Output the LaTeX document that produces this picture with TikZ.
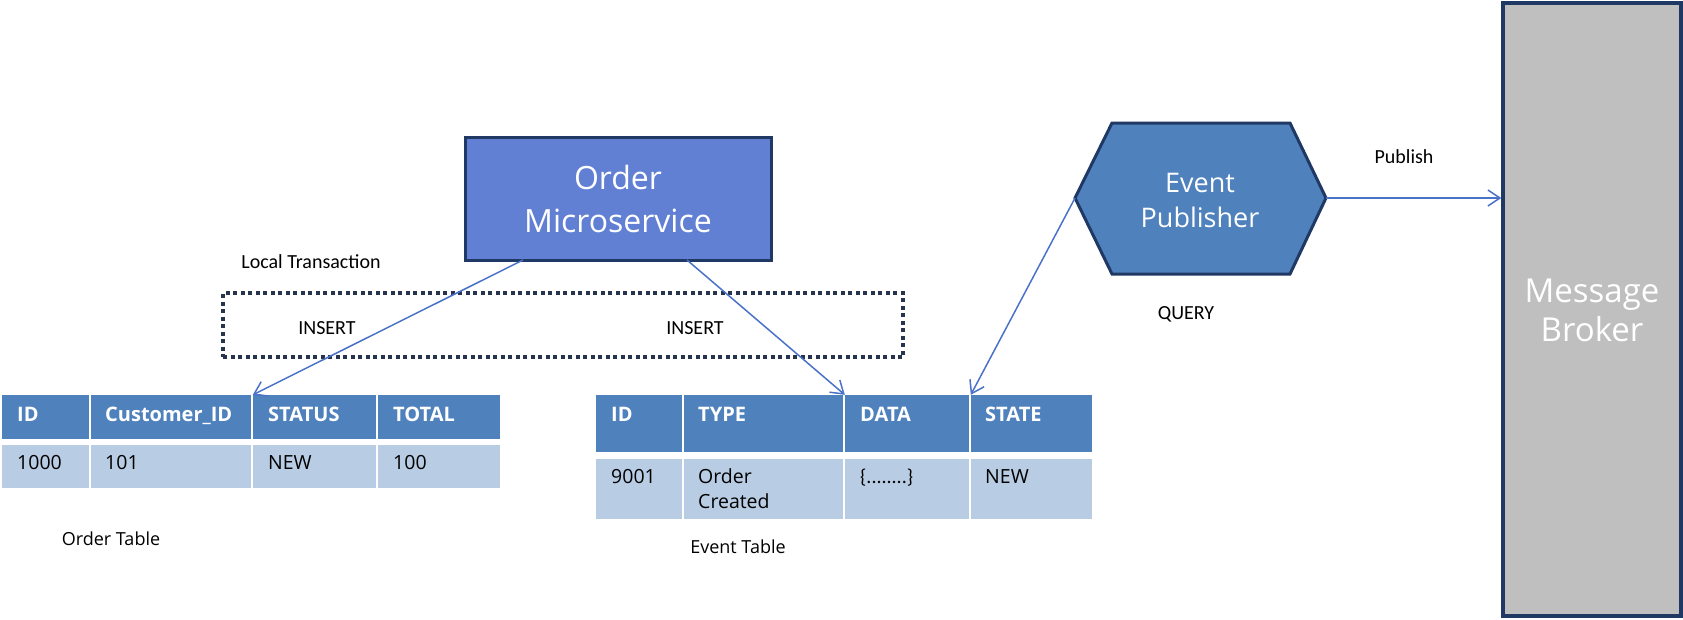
\documentclass[tikz,border=0pt]{standalone}
\usepackage{fontspec}
\setmainfont{Open Sans}
\newfontfamily\calfont{Carlito}
\usetikzlibrary{arrows.meta,fit}
\definecolor{boxblue}{RGB}{98,128,211}
\definecolor{navy}{RGB}{31,56,100}
\definecolor{hexblue}{RGB}{79,129,189}
\definecolor{hdrblue}{RGB}{79,129,189}
\definecolor{rowblue}{RGB}{184,204,228}
\definecolor{brokergray}{RGB}{191,191,191}
\definecolor{arrowblue}{RGB}{74,114,200}
\definecolor{dotnavy}{RGB}{38,52,78}
\tikzset{
  cellh/.style={fill=hdrblue, inner sep=0pt, draw=none},
  celld/.style={fill=rowblue, inner sep=0pt, draw=none},
  htxt/.style={anchor=base west, inner sep=0pt, text=white, font=\fontsize{20}{24}\selectfont\bfseries},
  dtxt/.style={anchor=base west, inner sep=0pt, text=black, font=\fontsize{19.5}{24}\selectfont},
  lbl/.style={inner sep=0pt, text=black, font=\calfont\fontsize{20}{24}\selectfont},
  caption/.style={inner sep=0pt, text=black, font=\fontsize{18}{22}\selectfont},
  conn/.style={draw=arrowblue, line width=1.5pt, -{Straight Barb[length=12pt,width=16pt]}},
}
\begin{document}
\begin{tikzpicture}[x=1pt,y=-1pt]
\useasboundingbox (0,0) rectangle (1683,619);

% Order Microservice
\node[draw=navy, fill=boxblue, line width=3pt, inner sep=0pt, fit={(465,137) (771,260)}] (svc) {};
\node[text=white, align=center, font=\fontsize{32}{43}\selectfont, inner sep=0pt] (svctxt) at (618,199) {Order\\Microservice};
\coordinate (svcL) at (523,260);
\coordinate (svcR) at (687,260);

% Local transaction dotted box
\node[draw=dotnavy, line width=3.5pt, dash pattern=on 4pt off 3.5pt, inner sep=0pt, fit={(223,293) (903,357)}] (tx) {};
\node[lbl] (txlbl) at (311,262) {Local Transaction};
\node[lbl] (ins1) at (327,328) {INSERT};
\node[lbl] (ins2) at (695,328) {INSERT};

% Order table
\node[cellh, fit={(2,395) (89,439)}] (oh1) {};
\node[cellh, fit={(91,395) (251,439)}] (oh2) {};
\node[cellh, fit={(253,395) (376,439)}] (oh3) {};
\node[cellh, fit={(378,395) (500,439)}] (oh4) {};
\node[celld, fit={(2,445) (89,488)}] (od1) {};
\node[celld, fit={(91,445) (251,488)}] (od2) {};
\node[celld, fit={(253,445) (376,488)}] (od3) {};
\node[celld, fit={(378,445) (500,488)}] (od4) {};
\node[htxt] (oht1) at (17,421) {ID};
\node[htxt] (oht2) at (105,421) {Customer\_ID};
\node[htxt] (oht3) at (268,421) {STATUS};
\node[htxt] (oht4) at (393,421) {TOTAL};
\node[dtxt] (odt1) at (17,469) {1000};
\node[dtxt] (odt2) at (105,469) {101};
\node[dtxt] (odt3) at (268,469) {NEW};
\node[dtxt] (odt4) at (393,469) {100};
\node[caption] (ocap) at (111,539) {Order Table};

% Event table
\node[cellh, fit={(596,395) (682,452)}] (eh1) {};
\node[cellh, fit={(684,395) (843,452)}] (eh2) {};
\node[cellh, fit={(845,395) (969,452)}] (eh3) {};
\node[cellh, fit={(971,395) (1092,452)}] (eh4) {};
\node[celld, fit={(596,459) (682,519)}] (ed1) {};
\node[celld, fit={(684,459) (843,519)}] (ed2) {};
\node[celld, fit={(845,459) (969,519)}] (ed3) {};
\node[celld, fit={(971,459) (1092,519)}] (ed4) {};
\node[htxt] (eht1) at (611,421) {ID};
\node[htxt] (eht2) at (698,421) {TYPE};
\node[htxt] (eht3) at (860,421) {DATA};
\node[htxt] (eht4) at (985,421) {STATE};
\node[dtxt] (edt1) at (611,483) {9001};
\node[dtxt] (edt2a) at (698,483) {Order};
\node[dtxt] (edt2b) at (698,508) {Created};
\node[dtxt, font=\calfont\fontsize{20}{24}\selectfont] (edt3) at (860,483) {\{........\}};
\node[dtxt] (edt4) at (985,483) {NEW};
\node[caption] (ecap) at (738,547) {Event Table};

% Event Publisher hexagon
\coordinate (hexL) at (1075,198);
\coordinate (hexR) at (1326,198);
\draw[draw=navy, fill=hexblue, line width=3pt, line join=miter]
  (hexL) -- (1112,123) -- (1290,123) -- (hexR) -- (1290,274) -- (1112,274) -- cycle;
\node[text=white, align=center, font=\fontsize{27}{35}\selectfont, inner sep=0pt] (pub) at (1200,200) {Event\\Publisher};
\node[lbl] (publbl) at (1404,157) {Publish};
\node[lbl] (query) at (1186,314) {QUERY};

% Message Broker
\node[draw=navy, fill=brokergray, line width=3.5pt, inner sep=0pt, fit={(1503,3) (1681,616)}] (broker) {};
\node[text=white, align=center, font=\fontsize{33}{39}\selectfont, inner sep=0pt] (brokertxt) at (1592,310.5) {Message\\Broker};

% Connectors
\draw[conn] (svcL) -- (oh3.north west);
\draw[conn] (svcR) -- (eh3.north west);
\draw[conn] (hexL) -- (eh4.north west);
\draw[conn] (hexR) -- (broker.west |- hexR);
\end{tikzpicture}
\end{document}
